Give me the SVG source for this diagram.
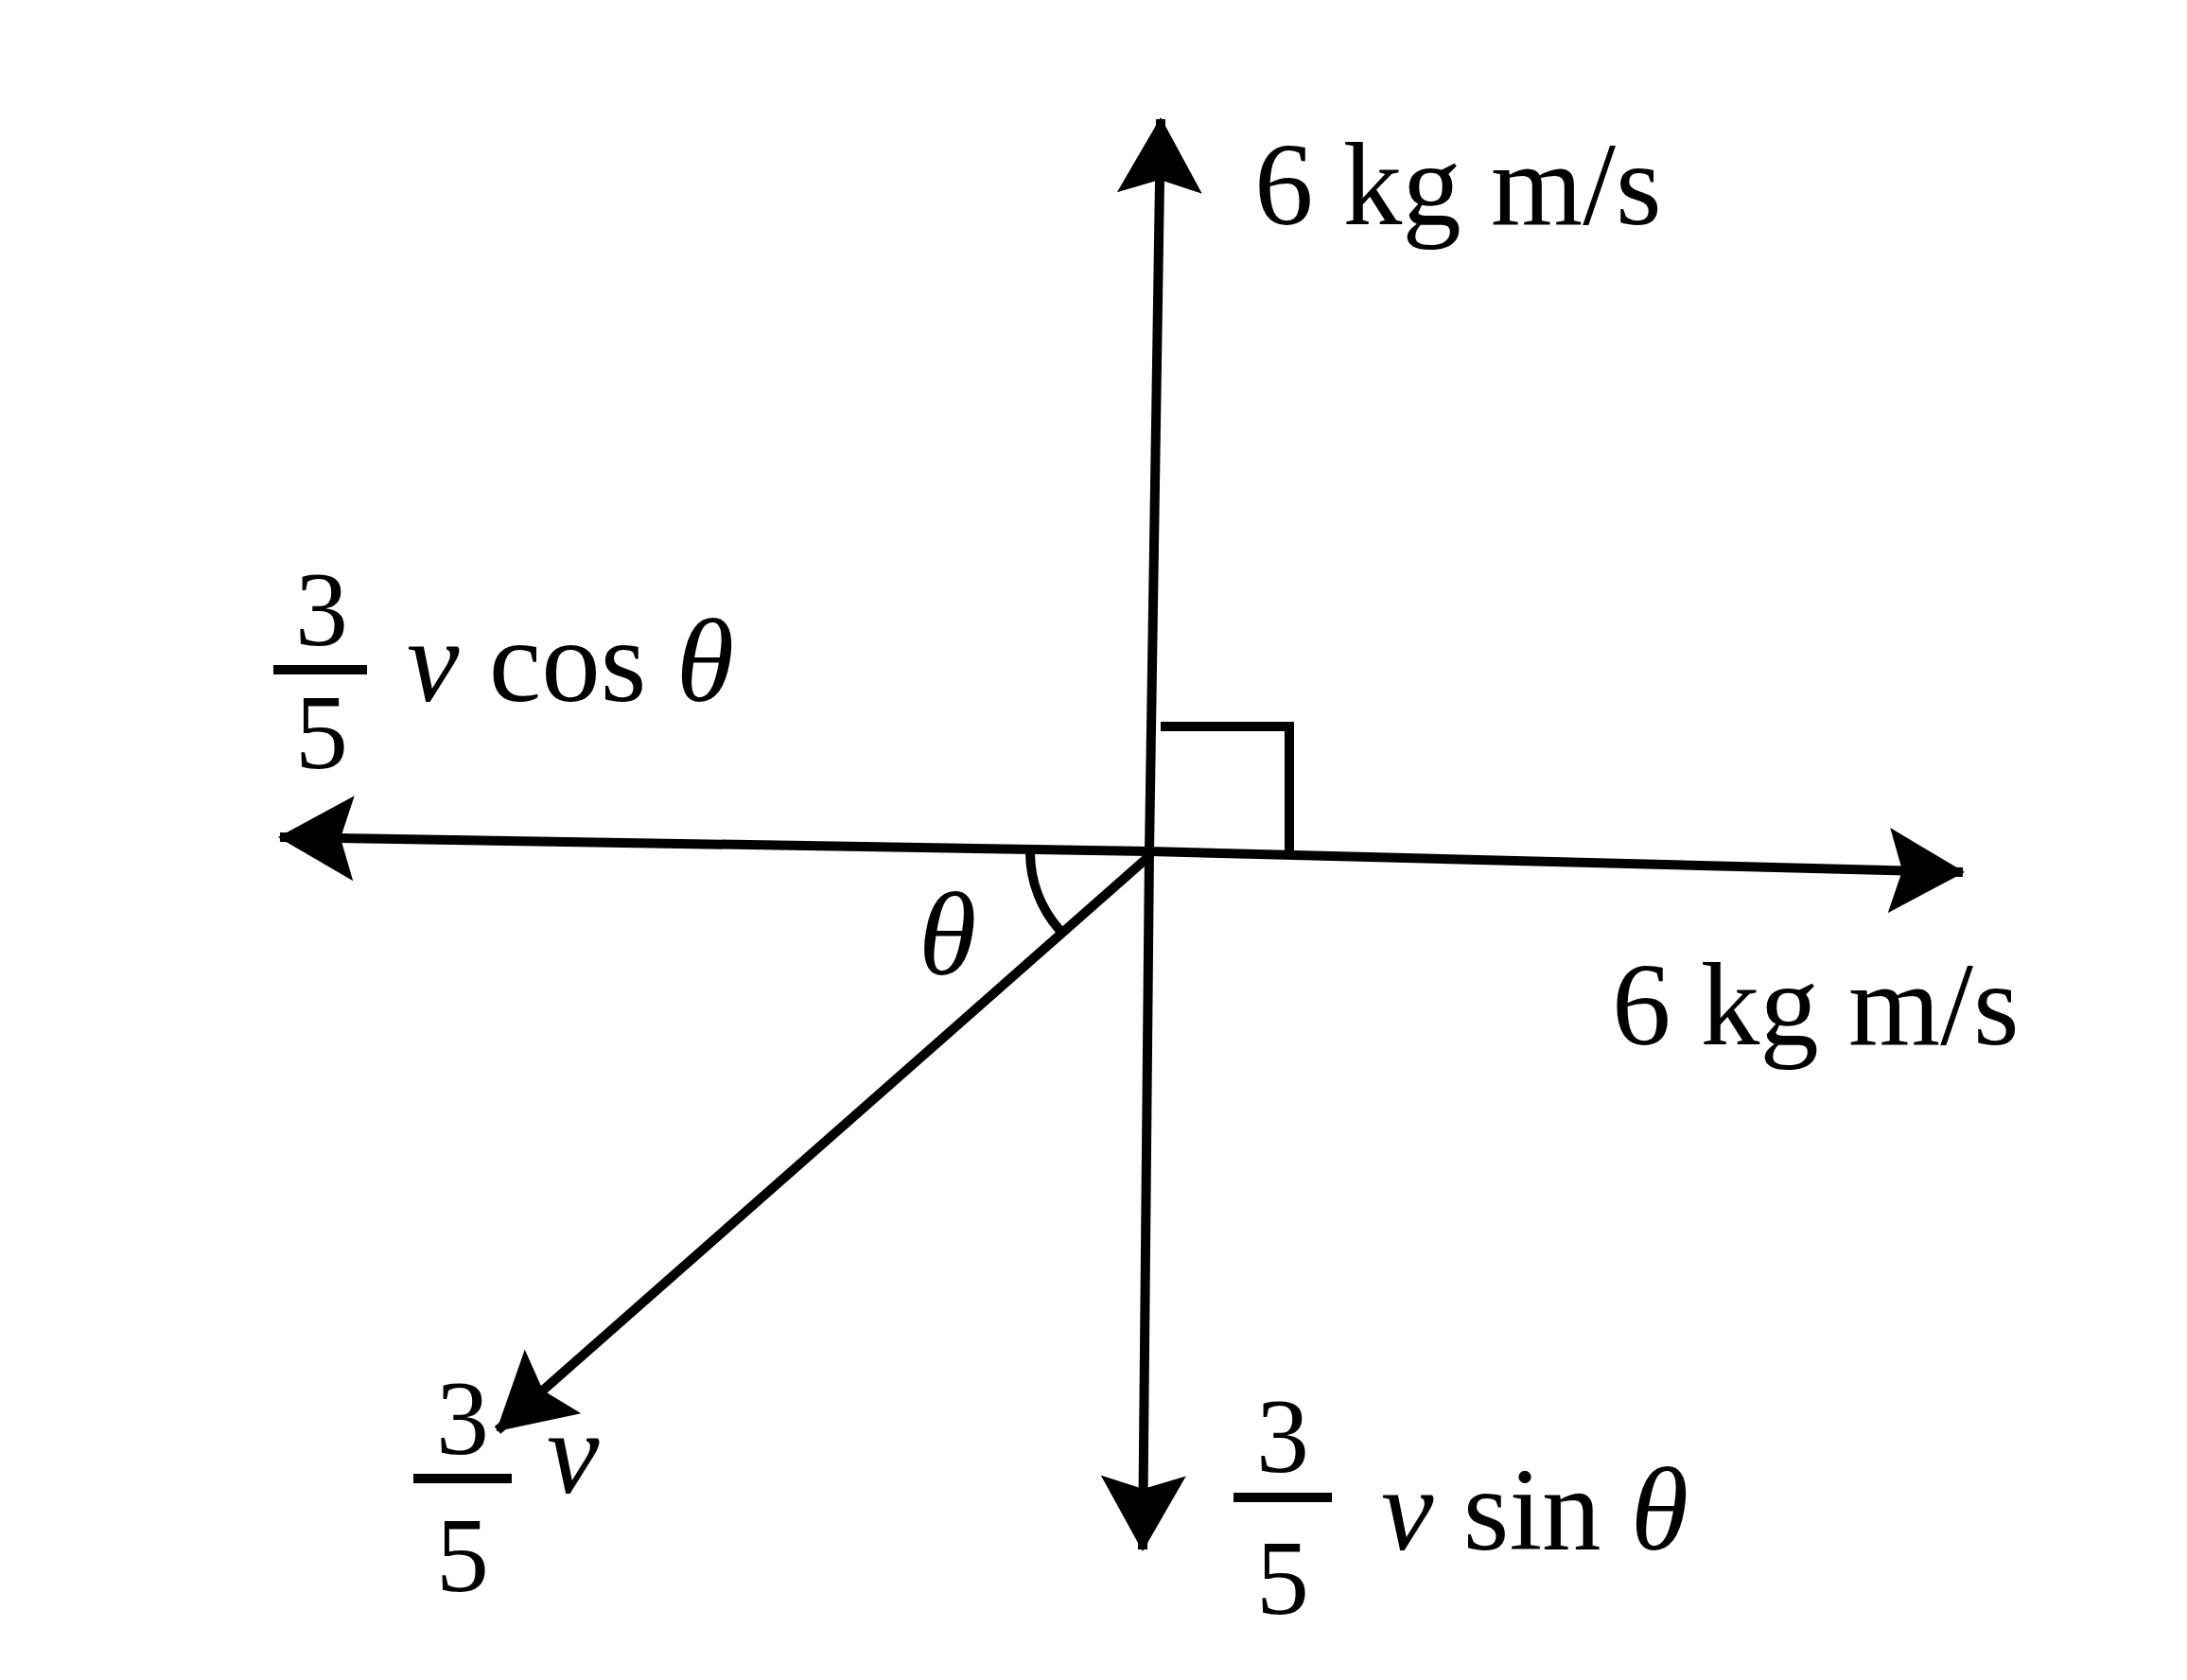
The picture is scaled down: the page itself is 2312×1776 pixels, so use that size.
<svg xmlns="http://www.w3.org/2000/svg" width="2312" height="1776" viewBox="0 0 2312 1776">
<style>
.l{stroke:#000;stroke-width:10;fill:none}
text{font-family:"Liberation Serif","Times New Roman",serif;font-size:125px;fill:#000}
.i{font-style:italic}
.c{text-anchor:middle;font-size:112px}
</style>
<defs>
<marker id="a" viewBox="0 0 80 90" refX="78" refY="45" markerWidth="80" markerHeight="90" markerUnits="userSpaceOnUse" orient="auto">
<path d="M0,0 L80,45 L0,90 L14,45 Z" fill="#000"/>
</marker>
</defs>
<rect width="2312" height="1776" fill="#fff"/>
<g id="connectors">
<line class="l" x1="1215" y1="900" x2="1227" y2="126" marker-end="url(#a)"/>
<line class="l" x1="1215" y1="900" x2="1208" y2="1638" marker-end="url(#a)"/>
<line class="l" x1="1215" y1="900" x2="296" y2="885" marker-end="url(#a)"/>
<line class="l" x1="1215" y1="900" x2="2075" y2="922" marker-end="url(#a)"/>
<line class="l" x1="1215" y1="905" x2="526" y2="1512" marker-end="url(#a)"/>
<path class="l" d="M1227,768 L1363,768 L1363,899"/>
<path class="l" d="M1089,902 A126,126 0 0 0 1120,983"/>
</g>
<g id="labels">
<text x="1326" y="237">6 kg m/s</text>
<text x="1704" y="1104">6 kg m/s</text>
<g id="cos"><text class="c" x="340" y="682">3</text><line class="l" x1="289" y1="708" x2="388" y2="708"/><text class="c" x="340" y="812">5</text><text x="430" y="741"><tspan class="i">v</tspan> cos <tspan class="i">θ</tspan></text></g>
<text class="i" x="971" y="1030">θ</text>
<g id="v"><text class="c" x="489" y="1537">3</text><line class="l" x1="437" y1="1563" x2="541" y2="1563"/><text class="c" x="489" y="1682">5</text><text class="i" x="578" y="1578">v</text></g>
<g id="sin"><text class="c" x="1356" y="1556">3</text><line class="l" x1="1304" y1="1583" x2="1408" y2="1583"/><text class="c" x="1356" y="1706">5</text><text x="1460" y="1638"><tspan class="i">v</tspan> sin <tspan class="i">θ</tspan></text></g>
</g>
</svg>
